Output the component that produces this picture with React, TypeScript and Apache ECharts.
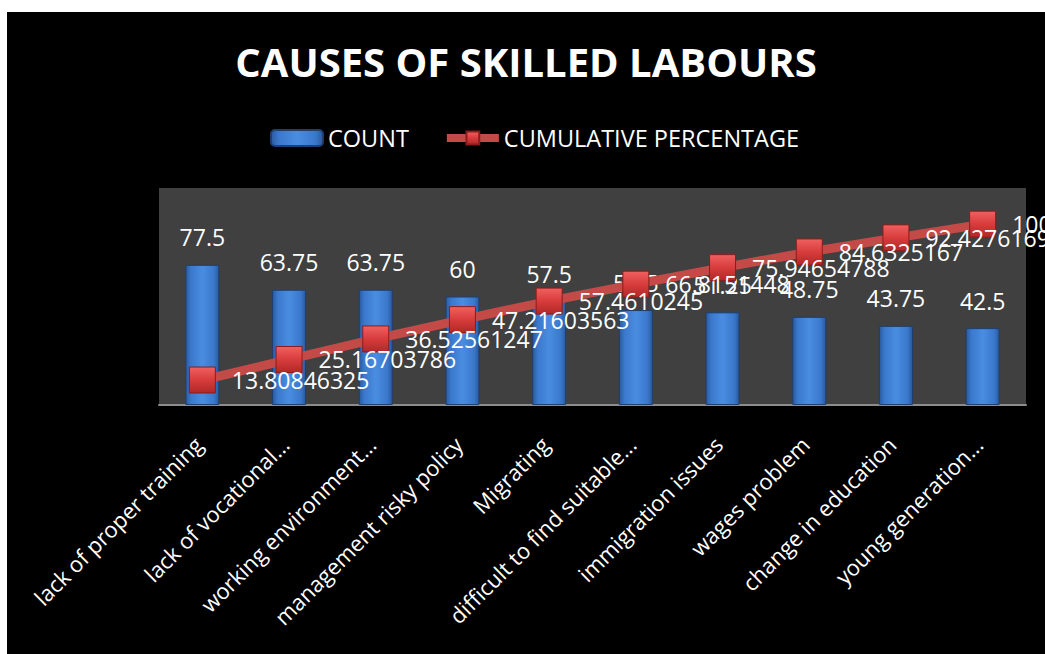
import React, { useEffect, useRef } from "react";
import * as echarts from "echarts";

const categories = [
  "lack of proper training",
  "lack of vocational...",
  "working environment...",
  "management risky policy",
  "Migrating",
  "difficult to find suitable...",
  "immigration issues",
  "wages problem",
  "change in education",
  "young generation...",
];
const countValues = [77.5, 63.75, 63.75, 60, 57.5, 52.5, 51.25, 48.75, 43.75, 42.5];
const cumulativeValues = [
  13.80846325, 25.16703786, 36.52561247, 47.21603563, 57.4610245, 66.8151448,
  75.94654788, 84.6325167, 92.42761693, 100,
];

const FONT = "'Open Sans', 'DejaVu Sans', sans-serif";

export default function App() {
  const ref = useRef<HTMLDivElement>(null);
  useEffect(() => {
    if (!ref.current) return;
    const chart = echarts.init(ref.current, undefined, { renderer: "svg" });
    const barGradient = new echarts.graphic.LinearGradient(0, 0, 1, 0, [
      { offset: 0, color: "#2a5a9c" },
      { offset: 0.15, color: "#3a78cc" },
      { offset: 0.5, color: "#4a8de0" },
      { offset: 0.85, color: "#3a78cc" },
      { offset: 1, color: "#2a5a9c" },
    ]);
    const markerGradient = new echarts.graphic.LinearGradient(0, 0, 0, 1, [
      { offset: 0, color: "#f06060" },
      { offset: 0.5, color: "#d83c3c" },
      { offset: 1, color: "#b02828" },
    ]);
    chart.setOption({
      animation: false,
      backgroundColor: "#000000",
      title: {
        text: "CAUSES OF SKILLED LABOURS",
        left: "center",
        top: 24,
        textStyle: { color: "#ffffff", fontSize: 40, fontWeight: "bold", fontFamily: FONT },
      },
      legend: {
        left: 258,
        top: 109,
        itemWidth: 52,
        itemHeight: 16,
        itemGap: 34,
        textStyle: { color: "#ffffff", fontSize: 23.5, fontFamily: FONT },
        data: [
          { name: "COUNT" },
          { name: "CUMULATIVE PERCENTAGE", lineStyle: { width: 8, color: "#c44a48" } },
        ],
      },
      grid: {
        left: 152,
        top: 176,
        width: 867,
        height: 217,
        show: true,
        backgroundColor: "#404040",
        borderWidth: 0,
        containLabel: false,
      },
      xAxis: {
        type: "category",
        data: categories,
        axisLine: { show: true, lineStyle: { color: "#8c8c8c", width: 2 } },
        axisTick: { show: false },
        axisLabel: {
          color: "#ffffff",
          fontSize: 22,
          fontFamily: FONT,
          rotate: 45,
          margin: 31,
          padding: [0, 6, 0, 0],
          interval: 0,
        },
      },
      yAxis: {
        type: "value",
        min: 0,
        max: 120,
        interval: 20,
        show: false,
        splitLine: { show: false },
      },
      series: [
        {
          name: "COUNT",
          type: "bar",
          data: countValues,
          barWidth: 34,
          itemStyle: { color: barGradient, borderColor: "#1e3f70", borderWidth: 1 },
          label: {
            show: true,
            position: "top",
            distance: 16,
            color: "#ffffff",
            fontSize: 23,
            fontFamily: FONT,
          },
        },
        {
          name: "CUMULATIVE PERCENTAGE",
          type: "line",
          data: cumulativeValues,
          symbol: "rect",
          symbolSize: 26,
          lineStyle: { color: "#c44a48", width: 9 },
          itemStyle: { color: markerGradient, borderColor: "#8a1c1c", borderWidth: 1 },
          label: {
            show: true,
            position: "right",
            distance: 16,
            color: "#ffffff",
            fontSize: 23,
            fontFamily: FONT,
          },
          z: 3,
        },
      ],
    });
    return () => chart.dispose();
  }, []);
  return (
    <div style={{ position: "fixed", left: 0, top: 0, width: 1045, height: 654, background: "#ffffff" }}>
      <div ref={ref} style={{ position: "absolute", left: 7, top: 12, width: 1038, height: 642 }} />
    </div>
  );
}
